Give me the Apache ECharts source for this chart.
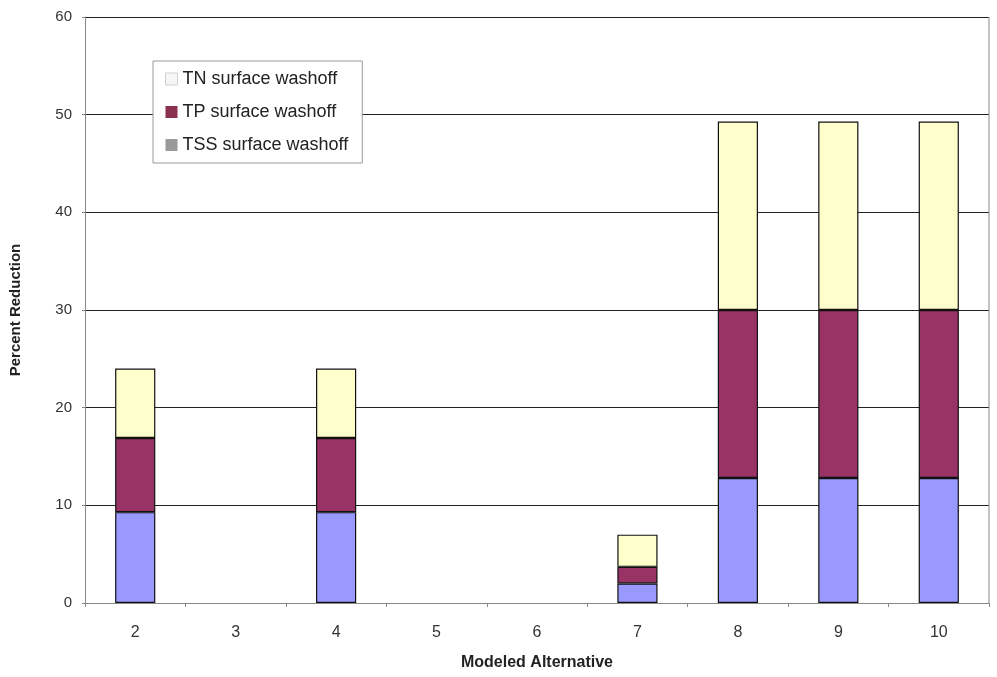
<!DOCTYPE html>
<html>
<head>
<meta charset="utf-8">
<script src="https://cdn.jsdelivr.net/npm/echarts@6/dist/echarts.min.js"></script>
<style>
  html, body { margin: 0; padding: 0; background: #fff; }
  #chart { width: 997px; height: 677px; }
</style>
</head>
<body>
<div id="chart"></div>
<script>
// Modeled alternatives along the x axis
const alternatives = ['2', '3', '4', '5', '6', '7', '8', '9', '10'];

// Percent reduction per pollutant (stacked: TSS at the bottom, then TP, then TN)
const tssWashoff = [9.3, null, 9.3, null, null, 2.0, 12.8, 12.8, 12.8];
const tpWashoff  = [7.6, null, 7.6, null, null, 1.7, 17.2, 17.2, 17.2];
const tnWashoff  = [7.1, null, 7.1, null, null, 3.3, 19.3, 19.3, 19.3];

// Y axis range and step
const yMin = 0, yMax = 60, yStep = 10;

const FONT = '"Liberation Sans", Arial, sans-serif';
const chart = echarts.init(document.getElementById('chart'), null, { renderer: 'canvas' });

const barBorder = { borderColor: '#111', borderWidth: 1.2 };

chart.setOption({
  animation: false,
  backgroundColor: '#ffffff',
  grid: { left: 85, right: 8, top: 17, bottom: 74, containLabel: false },
  legend: {
    orient: 'vertical',
    left: 153,
    top: 61,
    padding: [9, 14, 9, 12],
    borderColor: '#999',
    borderWidth: 1,
    backgroundColor: '#fff',
    itemWidth: 12,
    itemHeight: 12,
    itemGap: 15,
    icon: 'rect',
    textStyle: { fontFamily: FONT, fontSize: 18, color: '#222' },
    data: [
      { name: 'TN surface washoff', itemStyle: { color: '#f6f6f6', borderColor: '#d0d0d0', borderWidth: 1 } },
      { name: 'TP surface washoff', itemStyle: { color: '#8c3050', borderWidth: 0 } },
      { name: 'TSS surface washoff', itemStyle: { color: '#9a9a9a', borderWidth: 0 } }
    ]
  },
  xAxis: {
    type: 'category',
    data: alternatives,
    name: 'Modeled Alternative',
    nameLocation: 'middle',
    nameGap: 52,
    nameTextStyle: { fontFamily: FONT, fontSize: 16, fontWeight: 'bold', color: '#222' },
    axisLine: { lineStyle: { color: '#888', width: 1 } },
    axisTick: { show: true, length: 4, lineStyle: { color: '#888' } },
    axisLabel: { fontFamily: FONT, fontSize: 16, color: '#333', margin: 22 },
    splitLine: { show: false }
  },
  yAxis: {
    type: 'value',
    min: yMin,
    max: yMax,
    interval: yStep,
    name: 'Percent Reduction',
    nameLocation: 'middle',
    nameRotate: 90,
    nameGap: 62,
    nameTextStyle: { fontFamily: FONT, fontSize: 15, fontWeight: 'bold', color: '#222' },
    axisLine: { show: true, lineStyle: { color: '#888', width: 1 } },
    axisTick: { show: true, length: 3, lineStyle: { color: '#888' } },
    axisLabel: { fontFamily: FONT, fontSize: 15, color: '#333', margin: 13 },
    splitLine: { show: true, lineStyle: { color: '#222', width: 1.2 } }
  },
  series: [
    {
      name: 'TSS surface washoff',
      type: 'bar',
      stack: 'washoff',
      barWidth: '40%',
      data: tssWashoff,
      itemStyle: Object.assign({ color: '#9999ff' }, barBorder)
    },
    {
      name: 'TP surface washoff',
      type: 'bar',
      stack: 'washoff',
      barWidth: '40%',
      data: tpWashoff,
      itemStyle: Object.assign({ color: '#993366' }, barBorder)
    },
    {
      name: 'TN surface washoff',
      type: 'bar',
      stack: 'washoff',
      barWidth: '40%',
      data: tnWashoff,
      itemStyle: Object.assign({ color: '#ffffcc' }, barBorder)
    }
  ],
  graphic: [
    {
      // right-hand frame of the plot area
      type: 'line',
      shape: { x1: 989, y1: 17, x2: 989, y2: 603 },
      style: { stroke: '#888', lineWidth: 1 },
      z: 10
    }
  ]
});
</script>
</body>
</html>
